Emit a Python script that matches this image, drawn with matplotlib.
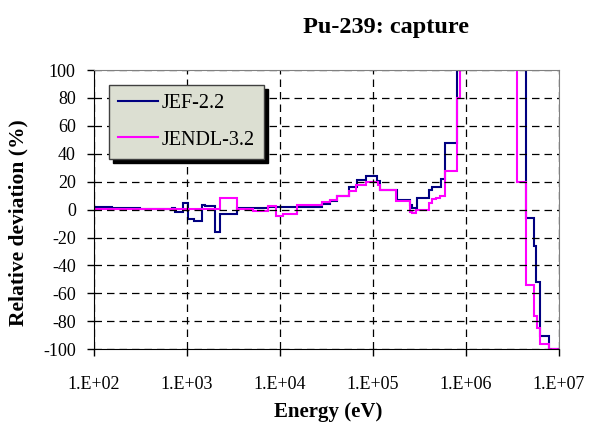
import numpy as np
import matplotlib
matplotlib.use("Agg")
import matplotlib.pyplot as plt

plt.rcParams['font.family'] = ['Liberation Serif', 'DejaVu Serif']
plt.rcParams['axes.unicode_minus'] = False

# group boundaries (eV) and relative deviation (%) per group
# values above 100 run off the top of the plot
jef_edges = [1.0e2, 1.56e2, 3.12e2, 6.9e2, 7.43e2, 9.06e2, 1.025e3, 1.19e3, 1.45e3,
             1.56e3, 2.0e3, 2.26e3, 3.45e3, 7.43e3, 2.83e4, 3.45e4, 4.1e4, 5.52e4,
             6.73e4, 8.41e4, 1.1e5, 1.19e5, 1.81e5, 2.5e5, 2.63e5, 2.97e5, 4.0e5,
             4.31e5, 5.38e5, 5.94e5, 8.0e5, 4.42e6, 5.43e6, 5.76e6, 6.36e6, 7.8e6, 1.0e7]
jef_dev = [2.0, 1.5, 0.5, 1.5, -2.0, 5.0, -6.5, -8.0, 3.5, 2.5, -16.0, -3.0, 1.0,
           2.0, 4.3, 6.5, 9.5, 16.5, 21.5, 24.0, 20.5, 14.0, 7.0, 3.0, 1.0, 8.4,
           14.4, 16.5, 21.6, 48.0, 400.0, -6.0, -26.4, -51.6, -90.7, -100.0]

jendl_edges = [1.0e2, 2.26e3, 3.45e3, 5.13e3, 7.43e3, 9.06e3, 1.077e4, 1.524e4, 2.88e4,
               3.45e4, 4.08e4, 5.56e4, 6.68e4, 8.41e4, 1.14e5, 1.19e5, 1.8e5, 2.5e5,
               2.67e5, 2.95e5, 4.03e5, 4.34e5, 4.84e5, 5.35e5, 5.98e5, 8.05e5, 8.77e5,
               3.6e6, 4.42e6, 5.43e6, 5.81e6, 6.36e6, 7.8e6, 1.0e7]
jendl_dev = [0.5, 8.5, 0.5, -1.2, 2.5, -4.8, -3.0, 3.6, 5.5, 7.0, 9.5, 13.2, 18.0,
             20.0, 18.0, 14.0, 6.0, -1.5, -2.7, 0.0, 4.6, 7.7, 8.4, 9.6, 27.6, 80.0,
             400.0, 20.0, -54.0, -76.0, -85.0, -96.0, -100.0]

fig = plt.figure(figsize=(5.9, 4.3), dpi=100)
ax = fig.add_axes([0.159, 0.188, 0.788, 0.649])

ax.stairs(jef_dev, jef_edges, color='#000080', lw=1.5, label='JEF-2.2', baseline=None)
ax.stairs(jendl_dev, jendl_edges, color='#ff00ff', lw=1.5, label='JENDL-3.2', baseline=None)

ax.set_xscale('log')
ax.set_xlim(1e2, 1e7)
ax.set_ylim(-100, 100)
ax.set_yticks(np.arange(-100, 101, 20))
ax.set_xticks([1e2, 1e3, 1e4, 1e5, 1e6, 1e7])
ax.set_xticklabels(['1.E+02', '1.E+03', '1.E+04', '1.E+05', '1.E+06', '1.E+07'])
ax.minorticks_off()
ax.tick_params(direction='out', length=5, width=1, labelsize=13, pad=8, colors='black')
ax.tick_params(axis='x', pad=14)

ax.grid(True, color='black', linestyle=(0, (6, 4)), linewidth=0.9)
for s in ['top', 'right']:
    ax.spines[s].set_color('#808080')
for s in ['left', 'bottom']:
    ax.spines[s].set_color('black')

fig.text(0.556, 0.042, 'Energy (eV)', fontsize=15, fontweight='bold', ha='center', va='center')
fig.text(0.031, 0.483, 'Relative deviation (%)', fontsize=15.5, fontweight='bold',
         ha='center', va='center', rotation=90)
fig.text(0.654, 0.923, 'Pu-239: capture', fontsize=17.5, fontweight='bold',
         ha='center', va='baseline')

leg = ax.legend(loc='upper left', bbox_to_anchor=(0.032, 0.946), borderaxespad=0,
                fontsize=14.5, fancybox=False, framealpha=1, edgecolor='#404040',
                handlelength=2.0, labelspacing=0.85, borderpad=0.45, handletextpad=0.2,
                shadow={'ox': 3, 'oy': -3, 'color': 'black', 'alpha': 1.0})
leg.get_frame().set_facecolor('#dcdfd2')
leg.get_frame().set_linewidth(1.0)

fig.savefig('out.png', dpi=100)
